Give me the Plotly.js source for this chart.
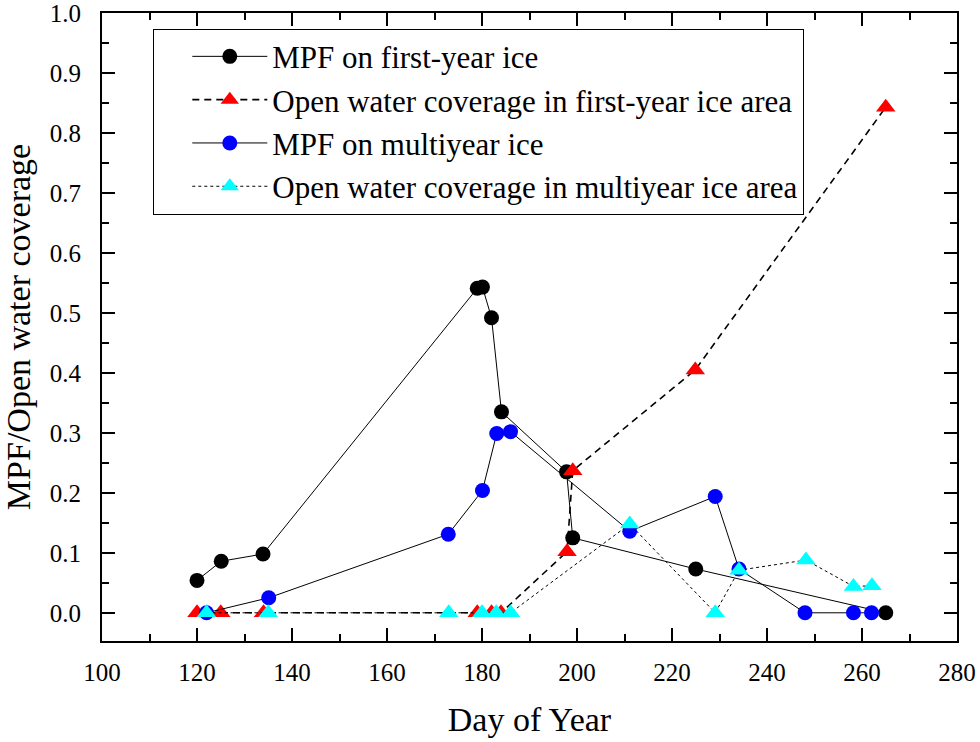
<!DOCTYPE html>
<html>
<head>
<meta charset="utf-8">
<script src="https://cdn.plot.ly/plotly-3.0.1.min.js"></script>
<style>html,body{margin:0;padding:0;background:#fff;}#chart{width:980px;height:742px;}</style>
</head>
<body>
<div id="chart"></div>
<script>
// MPF on first-year ice
const fyiDays = [120, 125.1, 133.9, 179.0, 180.1, 182.0, 184.1, 197.8, 199.1, 225.0, 265.0];
const fyiMPF  = [0.054, 0.086, 0.098, 0.541, 0.543, 0.492, 0.335, 0.235, 0.125, 0.073, 0.0];
// Open water coverage in first-year ice area
const fyiOWDays = [120, 125, 134, 179, 182, 184, 197.9, 199.1, 224.9, 265.0];
const fyiOW     = [0.0, 0.0, 0.0, 0.0, 0.0, 0.0, 0.102, 0.237, 0.405, 0.843];
// MPF on multiyear ice
const myiDays = [122, 135.1, 172.9, 180.1, 183.1, 186.0, 211.1, 229.1, 234.1, 248.0, 258.2, 262.0];
const myiMPF  = [0.0, 0.025, 0.131, 0.204, 0.299, 0.302, 0.136, 0.194, 0.073, 0.0, 0.0, 0.0];
// Open water coverage in multiyear ice area
const myiOWDays = [122, 135, 173, 180, 183, 186, 211.1, 229.1, 234.1, 248.2, 258.2, 262.1];
const myiOW     = [0.0, 0.0, 0.0, 0.0, 0.0, 0.0, 0.148, 0.0, 0.071, 0.088, 0.044, 0.045];

const xTicks = [100, 120, 140, 160, 180, 200, 220, 240, 260, 280];
const yTicks = [0.0, 0.1, 0.2, 0.3, 0.4, 0.5, 0.6, 0.7, 0.8, 0.9, 1.0];

const serif = 'Times New Roman';

const traces = [
  {x: fyiDays, y: fyiMPF, name: 'MPF on first-year ice', mode: 'lines+markers', type: 'scatter',
   line: {color: '#000', width: 1},
   marker: {symbol: 'circle', size: 15, color: '#000'}},
  {x: fyiOWDays, y: fyiOW, name: 'Open water coverage in first-year ice area', mode: 'lines+markers', type: 'scatter',
   line: {color: '#000', width: 1.6, dash: '7px,5px'},
   marker: {symbol: 'triangle-up', size: 17, color: '#ff0000'}},
  {x: myiDays, y: myiMPF, name: 'MPF on multiyear ice', mode: 'lines+markers', type: 'scatter',
   line: {color: '#000', width: 1},
   marker: {symbol: 'circle', size: 15, color: '#0000ff'}},
  {x: myiOWDays, y: myiOW, name: 'Open water coverage in multiyear ice area', mode: 'lines+markers', type: 'scatter',
   line: {color: '#000', width: 1, dash: '3px,3px'},
   marker: {symbol: 'triangle-up', size: 17, color: '#00ffff'}}
];

const layout = {
  width: 980, height: 742,
  margin: {l: 102, r: 23, t: 13, b: 101},
  paper_bgcolor: '#fff', plot_bgcolor: '#fff',
  font: {family: serif, color: '#000', size: 24},
  showlegend: true,
  legend: {
    x: 0.06, y: 0.975, xanchor: 'left', yanchor: 'top',
    bgcolor: '#fff', bordercolor: '#000', borderwidth: 1,
    font: {family: serif, size: 31, color: '#000'},
    itemwidth: 75, indentation: 33
  },
  xaxis: {
    range: [100, 280], tickvals: xTicks, ticktext: xTicks.map(String),
    ticks: 'inside', ticklen: 13, tickwidth: 2, tickcolor: '#000',
    minor: {dtick: 10, tick0: 100, ticks: 'inside', ticklen: 7, tickwidth: 2, tickcolor: '#000'},
    showline: true, linewidth: 2, linecolor: '#000', mirror: 'allticks',
    showgrid: false, zeroline: false,
    tickfont: {family: serif, size: 25, color: '#000'},
    ticklabelstandoff: 8, ticklabeloverflow: 'allow',
    title: {text: 'Day of Year', font: {family: serif, size: 34, color: '#000'}, standoff: 22}
  },
  yaxis: {
    range: [-0.047, 1.0], tickvals: yTicks, ticktext: yTicks.map(v => v.toFixed(1)),
    ticks: 'inside', ticklen: 13, tickwidth: 2, tickcolor: '#000',
    minor: {dtick: 0.05, tick0: 0, ticks: 'inside', ticklen: 7, tickwidth: 2, tickcolor: '#000'},
    showline: true, linewidth: 2, linecolor: '#000', mirror: 'allticks',
    showgrid: false, zeroline: false,
    tickfont: {family: serif, size: 25, color: '#000'},
    ticklabelstandoff: 14, ticklabeloverflow: 'allow',
    title: {text: 'MPF/Open water coverage', font: {family: serif, size: 34, color: '#000'}, standoff: 10}
  }
};

Plotly.newPlot('chart', traces, layout, {displayModeBar: false, staticPlot: true});
</script>
</body>
</html>
